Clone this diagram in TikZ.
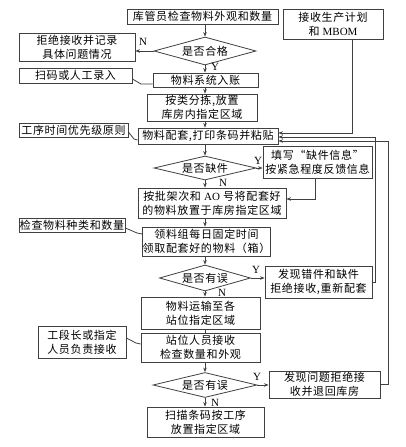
\documentclass[tikz,border=0pt]{standalone}
\usepackage{fontspec}
\setmainfont{Noto Sans CJK SC}[LetterSpace=6]
\newfontfamily\latf{Liberation Serif}
\usetikzlibrary{shapes.geometric,arrows.meta}
\newcommand\fsz{\fontsize{11}{14}\selectfont}
\definecolor{ln}{gray}{0.25}
\begin{document}
\begin{tikzpicture}[x=1pt,y=-1pt,
  box/.style={draw=ln, line width=0.8pt, inner sep=0pt, align=center, font=\fsz},
  dia/.style={draw=ln, line width=0.8pt, diamond, inner sep=0pt, font=\fsz, shape aspect=3.6},
  arr/.style={-{Stealth[length=4.5pt,width=3.5pt]}, draw=ln, line width=0.8pt},
  ln/.style={draw=ln, line width=0.8pt},
  lab/.style={font=\latf\fontsize{11}{12}\selectfont, inner sep=0pt}]
\useasboundingbox (0,0) rectangle (405,447);
\fill[white] (0,0) rectangle (405,447);
% nodes
\node[box, minimum width=151, minimum height=15] (kgy) at (202.5,16.5) {库管员检查物料外观和数量};
\node[box, minimum width=100, minimum height=30] (mbom) at (333,24) {接收生产计划\\和 {\latf MBOM}};
\node[dia, minimum width=102, minimum height=28] (d1) at (205,51) {是否合格};
\node[box, minimum width=116, minimum height=28] (jj) at (77,47) {拒绝接收并记录\\具体问题情况};
\node[box, minimum width=113, minimum height=15] (smlr) at (75.5,75.5) {扫码或人工录入};
\node[box, minimum width=105, minimum height=14] (wlxt) at (205.5,80) {物料系统入账};
\node[box, minimum width=110, minimum height=27] (alfj) at (202,107.5) {按类分拣,放置\\库房内指定区域};
\node[box, minimum width=109, minimum height=14] (gxsj) at (73.5,130) {工序时间优先级原则};
\node[box, minimum width=140, minimum height=16] (wlpt) at (208,136) {物料配套,打印条码并粘贴};
\node[dia, minimum width=102, minimum height=24] (d2) at (205,168) {是否缺件};
\node[box, minimum width=109, minimum height=32] (txqj) at (317.5,162) {填写“缺件信息”\\按紧急程度反馈信息};
\node[box, minimum width=148, minimum height=30] (apjc) at (212,203) {按批架次和 {\latf AO} 号将配套好\\的物料放置于库房指定区域};
\node[box, minimum width=106, minimum height=14] (jcwl) at (72,225) {检查物料种类和数量};
\node[box, minimum width=127, minimum height=29] (llz) at (206.5,241.5) {领料组每日固定时间\\领取配套好的物料（箱）};
\node[dia, minimum width=91, minimum height=26] (d3) at (205,278) {是否有误};
\node[box, minimum width=107, minimum height=32] (fxcj) at (318.5,282) {发现错件和缺件\\拒绝接收,重新配套};
\node[box, minimum width=119, minimum height=32] (wlys) at (200.5,313) {物料运输至各\\站位指定区域};
\node[box, minimum width=119, minimum height=29] (zwry) at (200.5,347.5) {站位人员接收\\检查数量和外观};
\node[box, minimum width=88, minimum height=32] (gdz) at (82,342) {工段长或指定\\人员负责接收};
\node[dia, minimum width=104, minimum height=25] (d4) at (205,385) {是否有误};
\node[box, minimum width=111, minimum height=27] (fxwt) at (324.5,384.5) {发现问题拒绝接\\收并退回库房};
\node[box, minimum width=117, minimum height=30] (smtm) at (205.5,422) {扫描条码按工序\\放置指定区域};
% main flow
\draw[arr] (kgy.south -| d1) -- (d1.north);
\draw[arr] (d1.south) -- (wlxt.north -| d1);
\draw[arr] (wlxt.south -| d1) -- (alfj.north -| d1);
\draw[arr] (alfj.south -| d1) -- (wlpt.north -| d1);
\draw[arr] (wlpt.south -| d2) -- (d2.north);
\draw[arr] (d2.south) -- (apjc.north -| d2);
\draw[arr] (apjc.south -| d2) -- (llz.north -| d2);
\draw[arr] (llz.south -| d3) -- (d3.north);
\draw[arr] (d3.south) -- (wlys.north -| d3);
\draw[ln] (wlys.south -| d3) -- (zwry.north -| d3);
\draw[arr] (zwry.south -| d4) -- (d4.north);
\draw[arr] (d4.south) -- (smtm.north -| d4);
% side branches
\draw[arr] (d1.west) -- (jj.east |- d1.west);
\draw[arr] (d2.east) -- (txqj.west |- d2.east);
\draw[arr] (d3.east) -- (fxcj.west |- d3.east);
\draw[arr] (d4.east) -- (fxwt.west |- d4.east);
% feedback
\coordinate (c1) at (315,199);
\draw[arr] (txqj.south -| c1) -- (c1) -- (apjc.east |- c1);
\coordinate (m1) at (352,133);
\draw[arr] (mbom.south -| m1) -- (m1) -- (wlpt.east |- m1);
\coordinate (r1) at (375,137);
\draw[arr] (fxcj.east) -- (fxcj.east -| r1) -- (r1) -- (wlpt.east |- r1);
\coordinate (r2) at (388,141);
\draw[arr] (fxwt.east) -- (fxwt.east -| r2) -- (r2) -- (wlpt.east |- r2);
% callouts
\draw[ln] (smlr.east |- 0,79) -- (141,84) -- (wlxt.west |- 0,84);
\draw[ln] (gxsj.east |- 0,132) -- (134,139) -- (wlpt.west |- 0,140);
\draw[ln] (jcwl.east |- 0,228) -- (137,233) -- (llz.west |- 0,234);
\draw[ln] (gdz.east |- 0,338) -- (136,343) -- (zwry.west |- 0,344);
% labels
\node[lab] at (143,42) {N};
\node[lab] at (215,67) {Y};
\node[lab] at (258,161) {Y};
\node[lab] at (223,183) {N};
\node[lab] at (256,270) {Y};
\node[lab] at (222,293) {N};
\node[lab] at (257,377) {Y};
\node[lab] at (215,403) {N};
\end{tikzpicture}
\end{document}
